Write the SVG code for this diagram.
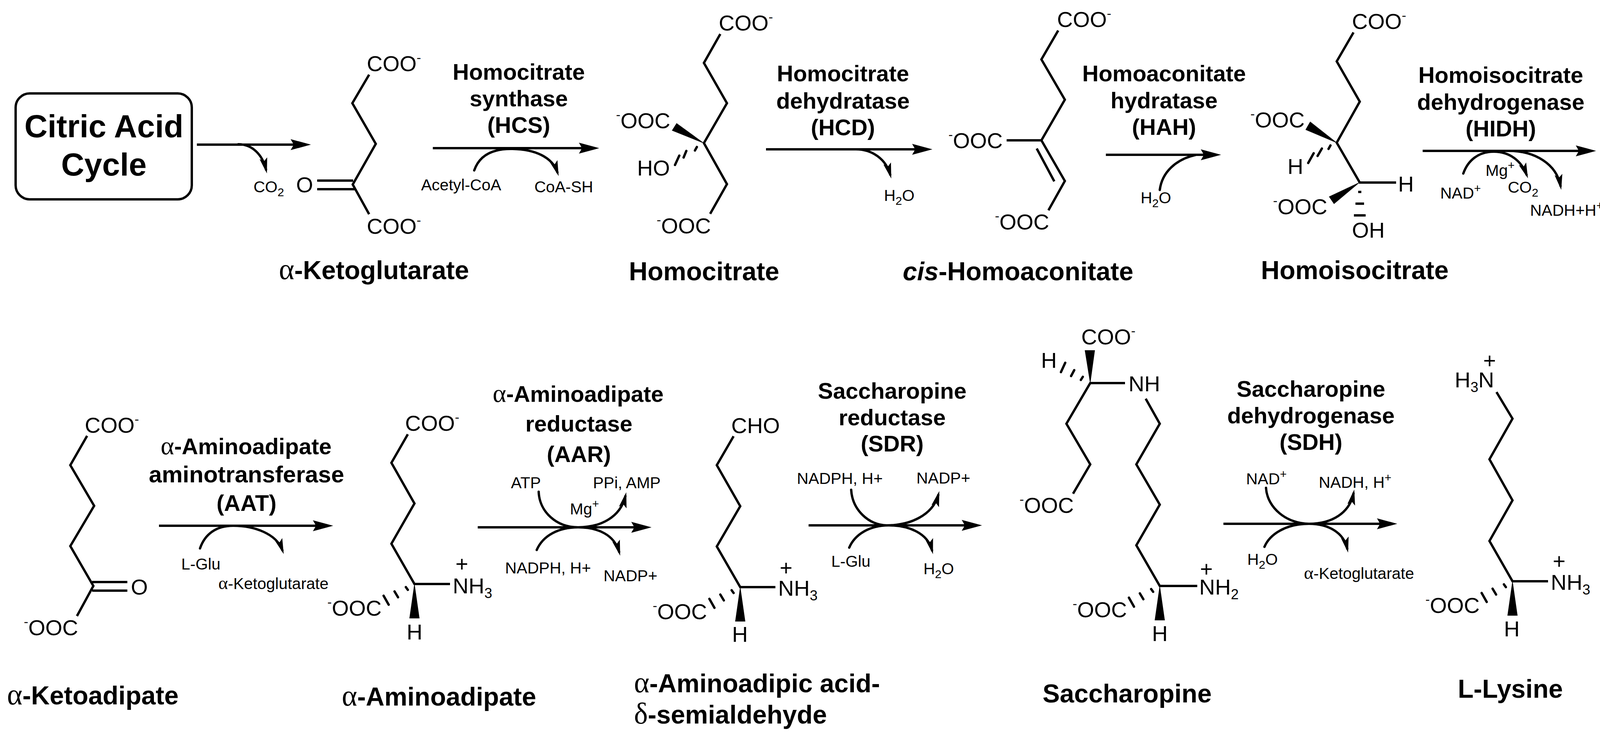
<svg xmlns="http://www.w3.org/2000/svg" xmlns:xlink="http://www.w3.org/1999/xlink" width="4135" height="1888" viewBox="0 0 4135 1888">
<style>
text{font-family:"Liberation Sans",Arial,sans-serif;fill:#000}
.a{font-size:56px}
.s{font-size:41px}
.e{font-size:58px;font-weight:bold;text-anchor:middle}
.n{font-size:66px;font-weight:bold}
.t{font-size:82px;font-weight:bold;text-anchor:middle}
.r{text-anchor:end}
.g{font-family:"Liberation Serif",serif;font-weight:normal;font-size:114%}
.b{fill:none;stroke:#000;stroke-width:6;stroke-linejoin:miter}
.h{fill:none;stroke:#000;stroke-width:6;stroke-linecap:round}
.w{fill:#000;stroke:none}
.m{stroke:#000;stroke-width:6;fill:none;marker-end:url(#big)}
.c{stroke:#000;stroke-width:6;fill:none;stroke-linecap:round}
.ca{marker-end:url(#small)}
</style>
<defs>
<marker id="big" markerUnits="userSpaceOnUse" markerWidth="60" markerHeight="32" refX="32" refY="16" orient="auto"><path d="M52,16 L0,2 L8,16 L0,30Z" fill="#000"/></marker>
<marker id="small" markerUnits="userSpaceOnUse" markerWidth="44" markerHeight="24" refX="30" refY="12" orient="auto"><path d="M40,12 L0,2 L8,12 L0,22Z" fill="#000"/></marker>
<g id="st"><path class="w" d="M0,-3 L-13,88 L13,88Z"/><path class="h" d="M-22,8 L-17,15 M-51,19 L-42,34 M-79,30 L-66,53"/></g>
</defs>
<rect width="4135" height="1888" fill="#fff"/>

<g id="citric-acid-cycle">
<rect class="b" x="40" y="239" width="451" height="271" rx="36"/>
<text class="t" x="266" y="351">Citric Acid</text>
<text class="t" x="266" y="449">Cycle</text>
</g>

<g id="a-ketoglutarate">
<path class="b" d="M945,191 L902,264 L962,368 L903,472 L945,548"/>
<path class="b" d="M812,462 H904 M812,484 H908"/>
<text class="a" x="939" y="182">COO<tspan font-size="34" dy="-23">-</tspan></text>
<text class="a" x="939" y="598">COO<tspan font-size="34" dy="-23">-</tspan></text>
<text class="a" x="758" y="492">O</text>
<text class="n" x="714" y="714"><tspan class="g">α</tspan>-Ketoglutarate</text>
</g>

<g id="homocitrate">
<path class="b" d="M1844,87 L1802,161 L1861,264 L1802,366 L1861,471 L1818,547"/>
<path class="w" d="M1805,368 L1732,315 L1720,334Z"/>
<path class="h" d="M1784,376 L1779,385 M1757,386 L1750,403 M1739,398 L1728,422"/>
<text class="a" x="1840" y="78">COO<tspan font-size="34" dy="-23">-</tspan></text>
<text class="a r" x="1716" y="328"><tspan font-size="34" dy="-23">-</tspan><tspan dy="23">OOC</tspan></text>
<text class="a" x="1631" y="449">HO</text>
<text class="a r" x="1820" y="597"><tspan font-size="34" dy="-23">-</tspan><tspan dy="23">OOC</tspan></text>
<text class="n" x="1610" y="717">Homocitrate</text>
</g>

<g id="cis-homoaconitate">
<path class="b" d="M2709,78 L2666,152 L2726,255 L2666,359 L2726,463 L2684,538"/>
<path class="b" d="M2577,359 H2666 M2654,380 L2699,464"/>
<text class="a" x="2706" y="69">COO<tspan font-size="34" dy="-23">-</tspan></text>
<text class="a r" x="2567" y="379"><tspan font-size="34" dy="-23">-</tspan><tspan dy="23">OOC</tspan></text>
<text class="a r" x="2686" y="587"><tspan font-size="34" dy="-23">-</tspan><tspan dy="23">OOC</tspan></text>
<text class="n" x="2311" y="717"><tspan font-style="italic">cis</tspan>-Homoaconitate</text>
</g>

<g id="homoisocitrate">
<path class="b" d="M3465,83 L3422,157 L3481,260 L3422,365 L3481,467 H3574"/>
<path class="w" d="M3425,367 L3354,311 L3342,332Z"/>
<path class="h" d="M3406,372 L3401,381 M3384,380 L3373,399 M3363,392 L3349,417"/>
<path class="w" d="M3483,465 L3402,503 L3415,522Z"/>
<path class="b" d="M3477,491 H3485 M3470,521 H3492 M3466,551 H3496"/>
<text class="a" x="3461" y="74">COO<tspan font-size="34" dy="-23">-</tspan></text>
<text class="a r" x="3340" y="326"><tspan font-size="34" dy="-23">-</tspan><tspan dy="23">OOC</tspan></text>
<text class="a" x="3296" y="445">H</text>
<text class="a" x="3579" y="490">H</text>
<text class="a r" x="3398" y="548"><tspan font-size="34" dy="-23">-</tspan><tspan dy="23">OOC</tspan></text>
<text class="a" x="3461" y="608">OH</text>
<text class="n" x="3228" y="714">Homoisocitrate</text>
</g>

<g id="a-ketoadipate">
<path class="b" d="M223,1115 L180,1190 L241,1294 L180,1397 L239,1499 L197,1576"/>
<path class="b" d="M236,1489 H326 M236,1511 H326"/>
<text class="a" x="217" y="1107">COO<tspan font-size="34" dy="-23">-</tspan></text>
<text class="a" x="335" y="1521">O</text>
<text class="a r" x="200" y="1625"><tspan font-size="34" dy="-23">-</tspan><tspan dy="23">OOC</tspan></text>
<text class="n" x="18" y="1802"><tspan class="g">α</tspan>-Ketoadipate</text>
</g>

<g id="a-aminoadipate">
<path class="b" d="M1044,1111 L1002,1184 L1061,1288 L1002,1391 L1061,1494 H1152"/>
<use xlink:href="#st" href="#st" x="1061" y="1494"/>
<text class="a" x="1037" y="1102">COO<tspan font-size="34" dy="-23">-</tspan></text>
<text class="a" x="1159" y="1518">NH<tspan font-size="36" dy="12">3</tspan><tspan x="1166" y="1462">+</tspan></text>
<text class="a r" x="977" y="1575"><tspan font-size="34" dy="-23">-</tspan><tspan dy="23">OOC</tspan></text>
<text class="a" x="1041" y="1636">H</text>
<text class="n" x="875" y="1805"><tspan class="g">α</tspan>-Aminoadipate</text>
</g>

<g id="a-aminoadipic-semialdehyde">
<path class="b" d="M1878,1116 L1835,1190 L1895,1295 L1835,1398 L1895,1502 H1985"/>
<use xlink:href="#st" href="#st" x="1895" y="1502"/>
<text class="a" x="1872" y="1108">CHO</text>
<text class="a" x="1992" y="1524">NH<tspan font-size="36" dy="12">3</tspan><tspan x="1996" y="1472">+</tspan></text>
<text class="a r" x="1810" y="1584"><tspan font-size="34" dy="-23">-</tspan><tspan dy="23">OOC</tspan></text>
<text class="a" x="1874" y="1642">H</text>
<text class="n" x="1623" y="1771"><tspan class="g">α</tspan>-Aminoadipic acid-</text>
<text class="n" x="1623" y="1851"><tspan class="g">δ</tspan>-semialdehyde</text>
</g>

<g id="saccharopine">
<path class="b" d="M2747,1263 L2791,1188 L2730,1084 L2791,980 H2880"/>
<path class="b" d="M2933,1020 L2969,1084 L2909,1188 L2969,1291 L2909,1395 L2969,1499 H3065"/>
<path class="w" d="M2791,983 L2777,896 L2803,896Z"/>
<path class="h" d="M2727,928 L2716,952 M2750,947 L2742,962 M2772,964 L2767,972"/>
<use xlink:href="#st" href="#st" x="2969" y="1499"/>
<text class="a" x="2768" y="881">COO<tspan font-size="34" dy="-23">-</tspan></text>
<text class="a" x="2665" y="941">H</text>
<text class="a" x="2889" y="1001">NH</text>
<text class="a r" x="2749" y="1312"><tspan font-size="34" dy="-23">-</tspan><tspan dy="23">OOC</tspan></text>
<text class="a" x="3070" y="1521">NH<tspan font-size="36" dy="12">2</tspan><tspan x="3072" y="1475">+</tspan></text>
<text class="a r" x="2885" y="1579"><tspan font-size="34" dy="-23">-</tspan><tspan dy="23">OOC</tspan></text>
<text class="a" x="2949" y="1640">H</text>
<text class="n" x="2669" y="1797">Saccharopine</text>
</g>

<g id="l-lysine">
<path class="b" d="M3831,1003 L3872,1071 L3813,1175 L3872,1280 L3813,1384 L3872,1487 H3963"/>
<use xlink:href="#st" href="#st" x="3872" y="1487"/>
<text class="a" x="3724" y="991">H<tspan font-size="36" dy="12">3</tspan><tspan dy="-12">N</tspan><tspan x="3797" y="942">+</tspan></text>
<text class="a" x="3970" y="1509">NH<tspan font-size="36" dy="12">3</tspan><tspan x="3975" y="1455">+</tspan></text>
<text class="a r" x="3788" y="1568"><tspan font-size="34" dy="-23">-</tspan><tspan dy="23">OOC</tspan></text>
<text class="a" x="3850" y="1628">H</text>
<text class="n" x="3732" y="1785">L-Lysine</text>
</g>

<g id="reaction-labels">
<g id="rx-hcs">
<text class="e" x="1328" y="204">Homocitrate</text><text class="e" x="1328" y="272">synthase</text><text class="e" x="1328" y="340">(HCS)</text>
<text class="s" x="1078" y="487">Acetyl-CoA</text><text class="s" x="1368" y="492">CoA-SH</text>
</g>
<g id="rx-co2"><text class="s" x="649" y="492">CO<tspan font-size="30" dy="10">2</tspan></text></g>
<g id="rx-hcd">
<text class="e" x="2158" y="208">Homocitrate</text><text class="e" x="2158" y="278">dehydratase</text><text class="e" x="2158" y="346">(HCD)</text>
<text class="s" x="2263" y="514">H<tspan font-size="30" dy="10">2</tspan><tspan dy="-10">O</tspan></text>
</g>
<g id="rx-hah">
<text class="e" x="2980" y="208">Homoaconitate</text><text class="e" x="2980" y="277">hydratase</text><text class="e" x="2980" y="345">(HAH)</text>
<text class="s" x="2920" y="520">H<tspan font-size="30" dy="10">2</tspan><tspan dy="-10">O</tspan></text>
</g>
<g id="rx-hidh">
<text class="e" x="3842" y="212">Homoisocitrate</text><text class="e" x="3842" y="281">dehydrogenase</text><text class="e" x="3842" y="349">(HIDH)</text>
<text class="s" x="3803" y="450">Mg<tspan font-size="30" dy="-17">+</tspan></text>
<text class="s" x="3860" y="493">CO<tspan font-size="30" dy="10">2</tspan></text>
<text class="s" x="3687" y="508">NAD<tspan font-size="30" dy="-16">+</tspan></text>
<text class="s" x="3917" y="552">NADH+H<tspan font-size="30" dy="-16">+</tspan></text>
</g>
<g id="rx-aat">
<text class="e" x="630" y="1162"><tspan class="g">α</tspan>-Aminoadipate</text><text class="e" x="631" y="1234" font-size="60" style="font-size:60px">aminotransferase</text><text class="e" x="631" y="1307">(AAT)</text>
<text class="s" x="464" y="1457">L-Glu</text>
<text class="s" x="559" y="1507"><tspan class="g">α</tspan>-Ketoglutarate</text>
</g>
<g id="rx-aar">
<text class="e" x="1480" y="1028"><tspan class="g">α</tspan>-Aminoadipate</text><text class="e" x="1482" y="1104">reductase</text><text class="e" x="1482" y="1182">(AAR)</text>
<text class="s" x="1308" y="1249">ATP</text>
<text class="s" x="1518" y="1249">PPi, AMP</text>
<text class="s" x="1459" y="1316">Mg<tspan font-size="30" dy="-17">+</tspan></text>
<text class="s" x="1293" y="1467">NADPH, H+</text>
<text class="s" x="1545" y="1487">NADP+</text>
</g>
<g id="rx-sdr">
<text class="e" x="2284" y="1020">Saccharopine</text><text class="e" x="2284" y="1088">reductase</text><text class="e" x="2284" y="1155">(SDR)</text>
<text class="s" x="2040" y="1238">NADPH, H+</text>
<text class="s" x="2346" y="1237">NADP+</text>
<text class="s" x="2128" y="1450">L-Glu</text>
<text class="s" x="2364" y="1469">H<tspan font-size="30" dy="10">2</tspan><tspan dy="-10">O</tspan></text>
</g>
<g id="rx-sdh">
<text class="e" x="3356" y="1015">Saccharopine</text><text class="e" x="3356" y="1083">dehydrogenase</text><text class="e" x="3356" y="1151">(SDH)</text>
<text class="s" x="3190" y="1239">NAD<tspan font-size="30" dy="-16">+</tspan></text>
<text class="s" x="3376" y="1248">NADH, H<tspan font-size="30" dy="-16">+</tspan></text>
<text class="s" x="3193" y="1445">H<tspan font-size="30" dy="10">2</tspan><tspan dy="-10">O</tspan></text>
<text class="s" x="3338" y="1481"><tspan class="g">α</tspan>-Ketoglutarate</text>
</g>
</g>

<g id="connectors">
<path class="m" d="M504,370 H776"/>
<path class="c ca" d="M610,369 C645,369 672,395 681,434"/>
<path class="m" d="M1108,379 H1514"/>
<path class="c ca" d="M1214,436 C1228,395 1265,380 1312,381 C1370,382 1414,402 1427,441"/>
<path class="m" d="M1961,382 H2367"/>
<path class="c ca" d="M2186,382 C2235,380 2269,410 2279,447"/>
<path class="m" d="M2831,396 H3106"/>
<path class="c" d="M2969,486 C2975,440 3010,408 3062,396"/>
<path class="m" d="M3642,386 H4066"/>
<path class="c ca" d="M3746,444 C3758,410 3785,388 3824,388 C3865,388 3895,412 3908,447"/>
<path class="c ca" d="M3862,386 C3930,386 3985,420 3995,476"/>
<path class="m" d="M407,1345 H833"/>
<path class="c ca" d="M512,1403 C525,1365 555,1345 597,1345 C650,1345 708,1365 723,1408"/>
<path class="m" d="M1223,1349 H1648"/>
<path class="c ca" d="M1379,1258 C1381,1310 1425,1349 1480,1349 C1535,1349 1588,1325 1601,1269"/>
<path class="c ca" d="M1374,1407 C1390,1370 1430,1349 1480,1349 C1530,1349 1573,1368 1585,1412"/>
<path class="m" d="M2070,1344 H2494"/>
<path class="c ca" d="M2179,1253 C2182,1305 2225,1344 2270,1344 C2330,1344 2388,1318 2402,1266"/>
<path class="c ca" d="M2174,1401 C2188,1368 2225,1344 2275,1344 C2325,1344 2375,1363 2386,1408"/>
<path class="m" d="M3132,1340 H3557"/>
<path class="c ca" d="M3241,1248 C3244,1300 3295,1340 3351,1340 C3410,1340 3455,1312 3465,1262"/>
<path class="c ca" d="M3237,1399 C3250,1368 3290,1340 3351,1340 C3400,1340 3440,1362 3449,1404"/>
</g>
</svg>
